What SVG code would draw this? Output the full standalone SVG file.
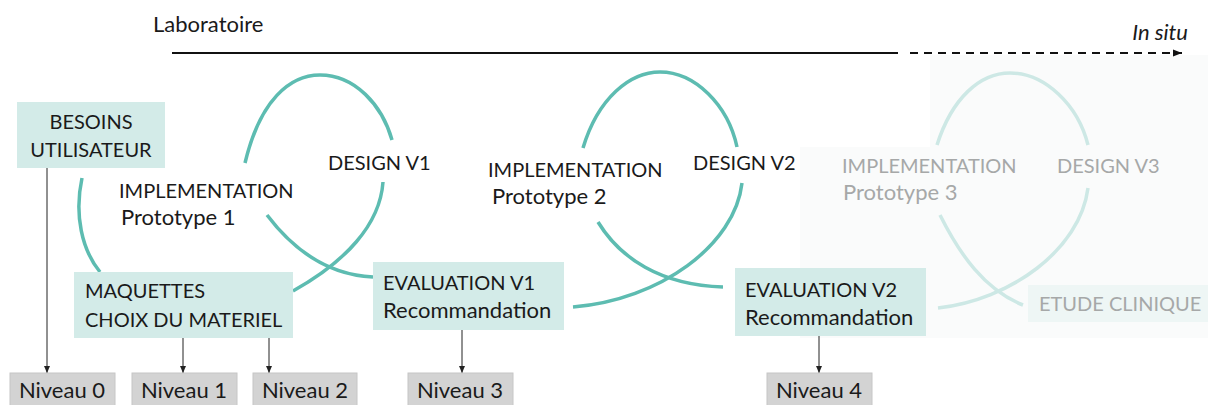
<svg xmlns="http://www.w3.org/2000/svg" width="1208" height="405" viewBox="0 0 1208 405">
<defs>
<style>
text{font-family:Lato,"Open Sans","Liberation Sans",sans-serif;font-size:20px;fill:#1a1a1a}
.lc{font-size:22px}
.t{fill:#d3ebe8}
.f{fill:#eef6f5}
.n{fill:#d3d3d3;stroke:#c6c6c6;stroke-width:1}
.g{fill:#a6a8a8}
.loop{fill:none;stroke:#5dbcb1;stroke-width:3.5;stroke-linecap:butt}
.loopf{fill:none;stroke:#cde8e5;stroke-width:3.5}
.ar{stroke:#222;stroke-width:1;fill:none;marker-end:url(#ah)}
</style>
<marker id="ah" markerWidth="8" markerHeight="8" refX="7" refY="4" orient="auto" markerUnits="userSpaceOnUse">
<path d="M0,1 L7,4 L0,7 Z" fill="#222"/>
</marker>
<marker id="ah2" markerWidth="10" markerHeight="10" refX="9" refY="5" orient="auto" markerUnits="userSpaceOnUse">
<path d="M0,1.5 L9,5 L0,8.5 Z" fill="#111"/>
</marker>
</defs>
<rect width="1208" height="405" fill="#fff"/>
<path id="fade" d="M930,55 H1208 V338 H800 V147 H930 Z" fill="#fafbfb"/>

<g id="timeline">
<text class="lc" x="153" y="32">Laboratoire</text>
<text class="lc" x="1188" y="40" text-anchor="end" font-style="italic">In situ</text>
<line x1="172" y1="53" x2="898" y2="53" stroke="#111" stroke-width="2"/>
<line x1="910" y1="53" x2="1182" y2="53" stroke="#111" stroke-width="2" stroke-dasharray="8,6" marker-end="url(#ah2)"/>
</g>

<g id="connectors">
<path class="loop" d="M82,178 C74,215 82,250 100,272"/>
<path class="loop" d="M245,163 C260,100 290,75 320,75 C355,75 382,105 392,140"/>
<path class="loop" d="M383,182 C380,225 345,262 293,291"/>
<path class="loop" d="M267,215 C295,252 330,275 373,277"/>
<path class="loop" d="M583,148 C598,98 630,72 660,72 C695,72 728,105 737,147"/>
<path class="loop" d="M742,183 C735,245 660,300 573,307"/>
<path class="loop" d="M598,222 C620,258 660,285 723,287"/>
<path class="loopf" d="M937,145 C952,98 980,73 1010,73 C1045,73 1078,105 1088,145"/>
<path class="loopf" d="M1088,188 C1080,250 1010,300 938,308"/>
<path class="loopf" d="M940,215 C960,255 985,290 1023,305"/>
<line class="ar" x1="47" y1="168" x2="47" y2="373"/>
<line class="ar" x1="183" y1="338" x2="183" y2="373"/>
<line class="ar" x1="269" y1="338" x2="269" y2="373"/>
<line class="ar" x1="462" y1="330" x2="462" y2="373"/>
<line class="ar" x1="819" y1="336" x2="819" y2="373"/>
</g>

<g id="besoins">
<rect class="t" x="17" y="102" width="148" height="66"/>
<text x="91" y="129" text-anchor="middle">BESOINS</text>
<text x="91" y="157" text-anchor="middle">UTILISATEUR</text>
</g>
<g id="maquettes">
<rect class="t" x="74" y="272" width="219" height="66"/>
<text x="85" y="298">MAQUETTES</text>
<text x="85" y="327">CHOIX DU MATERIEL</text>
</g>
<g id="eval1">
<rect class="t" x="373" y="262" width="191" height="68"/>
<text x="383" y="290">EVALUATION V1</text>
<text class="lc" x="383" y="318">Recommandation</text>
</g>
<g id="eval2">
<rect class="t" x="735" y="268" width="191" height="68"/>
<text x="745" y="297">EVALUATION V2</text>
<text class="lc" x="745" y="325">Recommandation</text>
</g>
<g id="etude">
<rect class="f" x="1028" y="285" width="180" height="37"/>
<text class="g" x="1039" y="311">ETUDE CLINIQUE</text>
</g>
<g id="impl1">
<text x="119" y="198">IMPLEMENTATION</text>
<text class="lc" x="121" y="225">Prototype 1</text>
</g>
<g id="design1"><text x="328" y="170">DESIGN V1</text></g>
<g id="impl2">
<text x="488" y="177">IMPLEMENTATION</text>
<text class="lc" x="492" y="204">Prototype 2</text>
</g>
<g id="design2"><text x="693" y="170">DESIGN V2</text></g>
<g id="impl3">
<text class="g" x="842" y="173">IMPLEMENTATION</text>
<text class="g lc" x="843" y="200">Prototype 3</text>
</g>
<g id="design3"><text class="g" x="1057" y="173">DESIGN V3</text></g>

<g id="niveau0"><rect class="n" x="10" y="373" width="105" height="34"/><text class="lc" x="62" y="398" text-anchor="middle">Niveau 0</text></g>
<g id="niveau1"><rect class="n" x="132" y="373" width="105" height="34"/><text class="lc" x="184" y="398" text-anchor="middle">Niveau 1</text></g>
<g id="niveau2"><rect class="n" x="253" y="373" width="104" height="34"/><text class="lc" x="305" y="398" text-anchor="middle">Niveau 2</text></g>
<g id="niveau3"><rect class="n" x="408" y="373" width="105" height="34"/><text class="lc" x="460" y="398" text-anchor="middle">Niveau 3</text></g>
<g id="niveau4"><rect class="n" x="767" y="373" width="105" height="34"/><text class="lc" x="819" y="398" text-anchor="middle">Niveau 4</text></g>
</svg>
